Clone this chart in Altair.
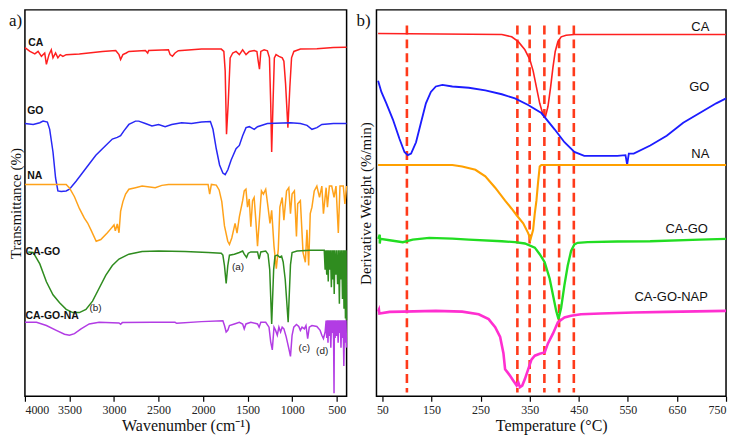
import altair as alt
import pandas as pd

# ---------------- FTIR (panel a) ----------------
ftir_ca_wn = [4000,3944,3889,3852,3815,3778,3759,3730,3704,3685,3656,3630,3604,3574,3537,3389,3130,2981,2944,2926,2900,2863,2833,2648,2622,2611,2389,2370,2344,2315,2278,2018,1796,1767,1752,1737,1718,1696,1667,1630,1593,1556,1518,1481,1426,1396,1381,1367,1352,1315,1278,1255,1241,1230,1215,1200,1181,1148,1111,1093,1074,1048,1026,1007,981,907,722,537,407,389]
ftir_ca_t = [358.3,354.3,351.7,354.3,349.3,352.7,341,351,356,347.7,352.7,347.7,351,349.3,351,351.7,354.3,355.3,351,346,351,352.7,354.3,355.3,352.7,355.3,356,351,349.3,352.7,355,356.7,356.7,354.3,334.3,269.3,301,347.7,352.7,354.3,351,356,351,354.3,355.3,354.3,344.3,336,354.3,356,355,347.7,301,251,301,347.7,351,349.3,347.7,344.3,321,276,317.7,347.7,354.3,356.7,357,358.3,358.7,358.7]

ftir_go_wn = [4000,3907,3833,3796,3748,3722,3685,3656,3630,3593,3537,3500,3426,3315,3204,3093,3019,2963,2926,2889,2833,2759,2722,2648,2574,2500,2426,2352,2241,2130,2018,1918,1889,1852,1815,1778,1752,1722,1685,1630,1593,1556,1518,1481,1426,1389,1278,1018,907,833,778,722,667,537,389]
ftir_go_t = [280.3,279.3,281,282.7,281.7,274.3,251,224.3,211,210.3,211,212.7,221,234.3,247.7,257.7,264.3,266,267.7,272.7,279.3,282.7,282.7,280.3,277.7,279.3,277,279.3,281,280.3,281.7,282.3,274.3,254.3,237.7,229.3,227.7,232.7,242.7,254.3,257.7,267.7,276,277,274.3,277,280.3,281,280.3,278.3,274.3,276,279.3,280.3,280.3]

ftir_na_wn = [4000,3537,3500,3444,3389,3333,3296,3259,3200,3148,3074,3037,3000,2985,2963,2944,2926,2900,2870,2833,2759,2685,2537,2463,2389,1944,1926,1907,1852,1820,1790,1760,1723,1704,1678,1641,1619,1593,1556,1538,1519,1501,1482,1464,1445,1427,1408,1389,1371,1345,1323,1297,1271,1249,1230,1204,1178,1156,1138,1112,1093,1063,1038,1019,1001,975,952,938,908,878,852,834,815,797,778,752,723,693,667,649,619,604,582,556,530,508,482,463,426,408,389]
ftir_na_t = [217.7,217.7,214,205,193,183,178,171,159.3,161,168,172,176,170,177,168,190,200,207.7,212.7,214.3,216,214.3,216.7,217.7,217.7,207.7,217.7,217,212,200,175,159.3,156,162.7,177.7,167.7,184.3,201,211,212.7,194.3,202.7,174.3,201,204.3,181,154.3,177.7,211,207.7,212.7,194.3,177.7,191,154.3,131,151,194.3,204.3,181,211,214.3,187.7,207.7,211,164.3,197.7,201,147.7,137.7,171,134.3,187.7,194.3,211,216,204.3,216,187.7,214.3,194.3,216,216,204.3,216,167.7,216,216,197.7,216]

ftir_cago_wn = [3963,3907,3833,3759,3685,3611,3537,3463,3389,3315,3241,3167,3093,3019,2944,2833,2685,2500,2204,1944,1796,1778,1760,1741,1723,1704,1649,1593,1556,1538,1512,1493,1464,1389,1371,1352,1297,1271,1252,1230,1208,1193,1167,1141,1119,1101,1078,1045,1019,1001,945,797,680,
                640,630,622,612,605,595,588,578,570,560,552,545,536,528,520,510,500,490,480,470,462,452,444,435,426,418,410,402,395,390]
ftir_cago_t = [148.3,147.7,136,117.7,104.3,96,89.3,86,86,89.3,97.7,111,124.3,134.3,141,146,148.7,149.3,148.7,147.7,147,145,134.3,116,134,145,146,147.7,149.3,146,142.7,147,148.3,148.3,141,148.3,149.3,146,130,74.3,130,144,145,143,144,138,120,76,135,147.7,149.3,150,150,
               150,130,150,125,150,118,150,130,150,112,150,120,150,105,150,125,150,115,150,95,150,120,150,100,150,90,150,80,150,78]

ftir_cagona_wn = [4000,3870,3759,3648,3556,3500,3444,3370,3278,3167,2944,2926,2907,2574,2315,2296,2018,1778,1760,1741,1723,1704,1649,1593,1556,1538,1519,1464,1389,1371,1352,1297,1260,1241,1223,1204,1186,1167,1149,1130,1112,1093,1067,1038,1019,1001,982,952,926,908,889,863,845,826,808,778,723,686,667,649,630,619,
                  612,605,598,590,582,575,566,558,550,542,535,530,526,518,510,500,492,484,476,468,460,452,444,436,428,420,412,404,396,390]
ftir_cagona_t = [76,76,72.7,67.7,63.7,62.7,64.3,69.3,74.3,76,75.3,74,75.7,76,76,75,76.7,77.7,72.7,66,67.7,72.7,74.3,76,74.3,69.3,74.3,76,74.3,71,76,76,71,56,47.7,71,67.7,62.7,71,66,71,69.3,61,49.3,41,62.7,71,73.7,71.7,67.7,71,69.3,72.7,59.3,71,72.7,71.7,67.7,62.7,59.3,66,77.7,
                 60,78,55,78,62,78,50,78,65,78,58,3,78,60,78,62,78,55,78,65,78,50,78,60,78,31,78,55,78,50]

ftir_names = ["CA", "GO", "NA", "CA-GO", "CA-GO-NA"]
ftir_colors = ["#ff1f1f", "#2828f5", "#ffa21a", "#2f8c1f", "#b23ce4"]
ftir_label_wn = [3962, 3975, 3975, 3995, 3995]
ftir_label_t = [363, 293, 226, 148, 82]
ftir_notes = ["(a)", "(b)", "(c)", "(d)"]
ftir_note_wn = [1608, 3208, 863, 663]
ftir_note_t = [133, 91, 50, 46]
ftir_ticks = [500,750,1000,1250,1500,1750,2000,2250,2500,2750,3000,3250,3500,3750,4000]

# ---------------- DTG (panel b) ----------------
dtg_ca_T = [41.3,293.3,313.4,326.9,340.3,350.4,357.1,363.8,370.5,377.3,382,387.3,392.7,397.4,402.1,407.5,414.2,424.3,441.1,750]
dtg_ca_v = [372.7,371.7,369.3,364.3,356,346,334.3,317.7,301,289.3,287,297.7,317.7,337.7,354.3,364.3,369.3,371,371.7,371.7]

dtg_go_T = [41.3,48,58.1,71.5,85,95,101.8,108.5,118.6,128.6,138.7,148.8,158.9,172.3,192.5,226.1,259.7,293.3,320.1,347,373.9,400.8,420.9,441.1,461.2,494.8,528.4,545.2,548.6,552,562,595.6,629.2,662.8,696.4,730,750]
dtg_go_v = [324.3,312.7,301,284.3,264.3,251,247.7,249.3,261,281,301,312.7,318.3,320,318.3,317,314.3,310.3,306,299.3,291,274.3,261,251,247,247,247,247.7,238,249.3,249.3,257.7,267.7,281,291,301,306]

dtg_na_T = [41.3,192.5,212.6,239.5,259.7,279.8,300,313.4,323.5,336.9,347,351.7,357.1,360.4,363.8,367.2,370.5,373.9,750]
dtg_na_v = [237.7,237.7,236,232.7,226,214.3,201,192.7,186,177.7,167.7,161,171,187.7,201,220,236,237.7,237.7]

dtg_cago_T = [41.5,44.7,44.7,46,64.8,91.7,111.8,145.4,192.5,226.1,293.3,320.1,340.3,360.5,370.5,380.6,390.7,397.4,404.1,408.8,414.2,420.9,427.6,434.4,441.1,447.8,468,528.4,595.6,696.4,750]
dtg_cago_v = [161.7,166,157,161.7,160.3,158.3,161,162.7,162,161,159.3,158.3,157,152.7,146,137.7,121,104.3,87.7,79.3,91,114.3,134.3,149.3,156,157.7,158.3,159,159.3,161,161.7]

dtg_cagonap_T = [41.3,43,44,64.8,91.7,158.9,212.6,246.2,266.4,279.8,289.9,296.6,300,305.4,310.1,316.8,323.5,326.9,330.2,334.9,340.3,347,353.7,360.5,370.5,380.6,387.3,397.4,407.5,420.9,434.4,454.5,494.8,562,629.2,750]
dtg_cagonap_v = [87,89,85,86.7,87,87.7,87,84.3,79.3,71,61,44.3,27.7,24.3,21,16,11,14.3,9.3,11,17.7,27.7,37.7,41.7,43.7,45,54.3,64.3,76,81,82.7,84.3,85,86,86.7,87.7]

dtg_names = ["CA", "GO", "NA", "CA-GO", "CA-GO-NAP"]
dtg_colors = ["#ff2020", "#1c1cff", "#ffa000", "#22dd22", "#ff2fd0"]
dtg_widths = [1.6, 2.6, 1.6, 1.6, 1.6]
dtg_label_T = [716, 716, 716, 713, 713]
dtg_label_v = [379, 318, 249, 172, 102]
dtg_dash_T = [100, 325, 350, 380, 410, 440]
dtg_dash_top = 381
dtg_dash_bottom = 4
dtg_ticks = [50,100,150,200,250,300,350,400,450,500,550,600,650,700,750]


def series_frame(name, xs, ys):
    assert len(xs) == len(ys), name
    return pd.DataFrame({"x": xs, "y": ys, "series": name, "i": list(range(len(xs)))})


serif = "Liberation Serif"
sans = "Liberation Sans"
H = 388
YDOM = [0, 397]

# ---------- left panel ----------
ftir_df = pd.concat([
    series_frame("CA", ftir_ca_wn, ftir_ca_t),
    series_frame("GO", ftir_go_wn, ftir_go_t),
    series_frame("NA", ftir_na_wn, ftir_na_t),
    series_frame("CA-GO", ftir_cago_wn, ftir_cago_t),
    series_frame("CA-GO-NA", ftir_cagona_wn, ftir_cagona_t),
])

lx = alt.Scale(domain=[4000, 389], nice=False, zero=False)
ly = alt.Scale(domain=YDOM, nice=False, zero=False)

left_x_axis = alt.Axis(
    values=ftir_ticks, format="d", labelExpr="datum.value % 500 === 0 ? datum.label : ''",
    tickSize={"condition": {"test": "datum.value % 500 === 0", "value": 5}, "value": 3},
    tickColor="black", tickWidth=1.2, domain=False, grid=False,
    labelFont=serif, labelFontSize=12, labelColor="#222", labelPadding=3,
    title="Wavenumber (cm⁻¹)", titleFont=serif, titleFontSize=16,
    titleFontWeight="normal", titleColor="#111", titlePadding=2,
)
left_y_axis = alt.Axis(
    labels=False, ticks=False, domain=False, grid=False,
    title="Transmittance (%)", titleFont=serif, titleFontSize=15,
    titleFontWeight="normal", titleColor="#111", titlePadding=1,
)

left_lines = alt.Chart(ftir_df).mark_line(strokeWidth=1.5).encode(
    x=alt.X("x:Q", scale=lx, axis=left_x_axis),
    y=alt.Y("y:Q", scale=ly, axis=left_y_axis),
    color=alt.Color("series:N", scale=alt.Scale(domain=ftir_names, range=ftir_colors), legend=None),
    detail="series:N",
    order="i:Q",
)

left_lab_df = pd.DataFrame({"x": ftir_label_wn, "y": ftir_label_t, "t": ftir_names})
left_labels = alt.Chart(left_lab_df).mark_text(
    align="left", baseline="middle", font=sans, fontSize=10.5, fontWeight="bold", color="#111"
).encode(x=alt.X("x:Q", scale=lx), y=alt.Y("y:Q", scale=ly), text="t:N")

left_note_df = pd.DataFrame({"x": ftir_note_wn, "y": ftir_note_t, "t": ftir_notes})
left_notes = alt.Chart(left_note_df).mark_text(
    align="center", baseline="middle", font=sans, fontSize=10, color="#222"
).encode(x=alt.X("x:Q", scale=lx), y=alt.Y("y:Q", scale=ly), text="t:N")

left_tag = alt.Chart(pd.DataFrame({"t": ["a)"]})).mark_text(
    align="left", baseline="middle", font=serif, fontSize=17, color="#111"
).encode(x=alt.value(-16), y=alt.value(11), text="t:N")

left = alt.layer(left_lines, left_labels, left_notes, left_tag).properties(width=323, height=H)

# ---------- right panel ----------
dtg_df = pd.concat([
    series_frame("CA", dtg_ca_T, dtg_ca_v),
    series_frame("GO", dtg_go_T, dtg_go_v),
    series_frame("NA", dtg_na_T, dtg_na_v),
    series_frame("CA-GO", dtg_cago_T, dtg_cago_v),
    series_frame("CA-GO-NAP", dtg_cagonap_T, dtg_cagonap_v),
])

rx = alt.Scale(domain=[38, 750], nice=False, zero=False)
ry = alt.Scale(domain=YDOM, nice=False, zero=False)

right_x_axis = alt.Axis(
    values=dtg_ticks, format="d", labelExpr="(datum.value - 50) % 100 === 0 ? datum.label : ''",
    tickSize={"condition": {"test": "(datum.value - 50) % 100 === 0", "value": 5}, "value": 3},
    tickColor="black", tickWidth=1.2, domain=False, grid=False,
    labelFont=serif, labelFontSize=12, labelColor="#222", labelPadding=3,
    title="Temperature (°C)", titleFont=serif, titleFontSize=16,
    titleFontWeight="normal", titleColor="#111", titlePadding=2,
)
right_y_axis = alt.Axis(
    labels=False, ticks=False, domain=False, grid=False,
    title="Derivative Weight (%/min)", titleFont=serif, titleFontSize=15,
    titleFontWeight="normal", titleColor="#111", titlePadding=3,
)

dash_df = pd.DataFrame({"x": dtg_dash_T, "y": [dtg_dash_top] * len(dtg_dash_T), "y2": [dtg_dash_bottom] * len(dtg_dash_T)})
right_dash = alt.Chart(dash_df).mark_rule(color="#ff3a1a", strokeWidth=2.6, strokeDash=[9, 5]).encode(
    x=alt.X("x:Q", scale=rx, axis=right_x_axis),
    y=alt.Y("y:Q", scale=ry, axis=right_y_axis),
    y2="y2:Q",
)

right_lines = alt.Chart(dtg_df).mark_line().encode(
    x=alt.X("x:Q", scale=rx, axis=right_x_axis),
    y=alt.Y("y:Q", scale=ry, axis=right_y_axis),
    color=alt.Color("series:N", scale=alt.Scale(domain=dtg_names, range=dtg_colors), legend=None),
    strokeWidth=alt.StrokeWidth("series:N", scale=alt.Scale(domain=dtg_names, range=dtg_widths), legend=None),
    detail="series:N",
    order="i:Q",
)

right_lab_df = pd.DataFrame({"x": dtg_label_T, "y": dtg_label_v, "t": dtg_names})
right_labels = alt.Chart(right_lab_df).mark_text(
    align="right", baseline="middle", font=sans, fontSize=13, color="#111"
).encode(x=alt.X("x:Q", scale=rx), y=alt.Y("y:Q", scale=ry), text="t:N")

right_tag = alt.Chart(pd.DataFrame({"t": ["b)"]})).mark_text(
    align="left", baseline="middle", font=serif, fontSize=17, color="#111"
).encode(x=alt.value(-20), y=alt.value(11), text="t:N")

right = alt.layer(right_dash, right_lines, right_labels, right_tag).properties(width=351, height=H)

chart = alt.hconcat(left, right, spacing=30, bounds="flush").resolve_scale(
    color="independent", strokeWidth="independent"
).properties(
    padding=0
).configure_view(stroke="black", strokeWidth=1.5)

chart.save("out.html", embed_options={"renderer": "svg", "actions": False})
